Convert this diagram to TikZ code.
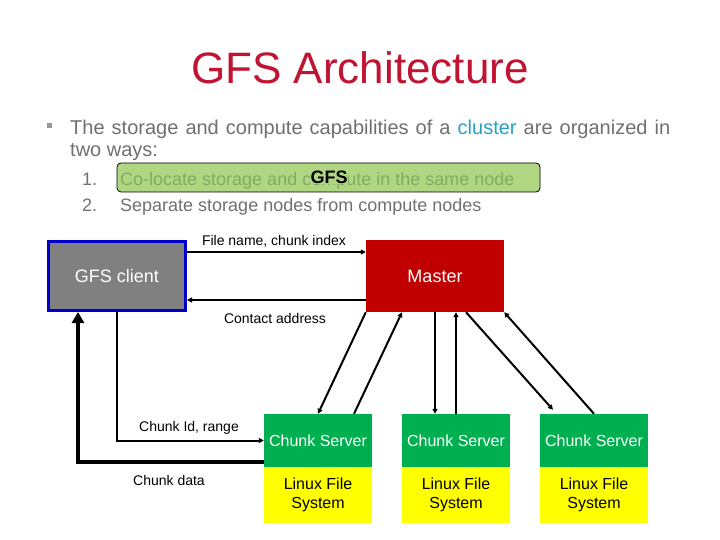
\documentclass[tikz,border=0pt]{standalone}
\usepackage{fontspec}
\setmainfont{Liberation Sans}
\usetikzlibrary{arrows.meta,calc}
\definecolor{titlered}{RGB}{192,20,50}
\definecolor{bodygray}{RGB}{112,112,112}
\definecolor{bulletgray}{RGB}{150,150,150}
\definecolor{clusterblue}{RGB}{40,160,200}
\definecolor{boxgreen}{RGB}{176,214,130}
\definecolor{boxtext}{RGB}{128,172,96}
\definecolor{clientgray}{RGB}{128,128,128}
\definecolor{clientblue}{RGB}{0,0,204}
\definecolor{masterred}{RGB}{192,0,0}
\definecolor{csgreen}{RGB}{0,176,80}
\definecolor{fsyellow}{RGB}{255,255,0}
\begin{document}
\begin{tikzpicture}[x=1pt,y=-1pt,
  txt/.style={anchor=base west, inner sep=0pt},
  lbl/.style={font=\fontsize{14}{16}\selectfont, anchor=base, inner sep=0pt},
  conn/.style={line width=2pt, -{Triangle[length=5pt,width=5pt]}},
  bigconn/.style={line width=4.5pt, -{Triangle[length=11pt,width=12pt]}},
  csbox/.style={fill=csgreen, text=white, minimum width=108pt, minimum height=53pt, inner sep=0pt, font=\fontsize{16}{19}\selectfont},
  fsbox/.style={fill=fsyellow, text=black, minimum width=108pt, minimum height=56pt, inner sep=0pt, align=center, font=\fontsize{16}{19}\selectfont},
]
\useasboundingbox (0,0) rectangle (720,540);
\fill[white] (0,0) rectangle (720,540);

% title
\node[anchor=base, inner sep=0pt, text=titlered, font=\fontsize{44}{50}\selectfont] (title) at (360,84) {GFS Architecture};

% bullet text
\node[fill=bulletgray, minimum size=5pt, inner sep=0pt] (bul) at (49.5,125.5) {};
\node[txt, text=bodygray, font=\fontsize{20}{24}\selectfont] (l1) at (70,135)
  {\makebox[600pt][s]{The storage and compute capabilities of a \textcolor{clusterblue}{cluster} are organized in}};
\node[txt, text=bodygray, font=\fontsize{20}{24}\selectfont] (l2) at (70,157) {two ways:};

% list
\node[txt, text=bodygray, font=\fontsize{18}{21}\selectfont] (n1) at (82,185.5) {1.};
\node[txt, text=bodygray, font=\fontsize{18}{21}\selectfont] (n2) at (82,211.5) {2.};
\node[draw=black, line width=0.8pt, rounded corners=4pt, fill=boxgreen, minimum width=423pt, minimum height=29pt, inner sep=0pt] (gbox) at (328.5,177.5) {};
\node[txt, text=boxtext, font=\fontsize{18}{21}\selectfont] (t1) at (120,185.5) {Co-locate storage and compute in the same node};
\node[fill=boxgreen, inner sep=0.5pt, font=\fontsize{18}{21}\selectfont\bfseries] (gfs) at (329,177.5) {GFS};
\node[txt, text=bodygray, font=\fontsize{18}{21}\selectfont] (t2) at (120,211.5) {Separate storage nodes from compute nodes};

% main boxes
\node[draw=clientblue, line width=3pt, fill=clientgray, text=white, minimum width=137pt, minimum height=69pt, inner sep=0pt, font=\fontsize{18}{21}\selectfont] (client) at (117,276) {GFS client};
\node[fill=masterred, text=white, minimum width=138pt, minimum height=72pt, inner sep=0pt, font=\fontsize{18}{21}\selectfont] (master) at (435,276) {Master};

\node[csbox] (cs1) at (318,440.5) {Chunk Server};
\node[csbox] (cs2) at (456,440.5) {Chunk Server};
\node[csbox] (cs3) at (594,440.5) {Chunk Server};
\node[fsbox] (fs1) at (318,495) {Linux File\\System};
\node[fsbox] (fs2) at (456,495) {Linux File\\System};
\node[fsbox] (fs3) at (594,495) {Linux File\\System};

% client <-> master
\draw[conn] ([yshift=24pt]client.east) -- ([yshift=24pt]master.west);
\draw[conn] ([yshift=-24pt]master.west) -- ([yshift=-24pt]client.east);
\node[lbl] (lfn) at (274,245) {File name, chunk index};
\node[lbl] (lca) at (275,323) {Contact address};

% client <-> chunk server
\draw[conn] (client.south) |- (cs1.west);
\draw[bigconn] ([yshift=-21.5pt]cs1.west) -| ([xshift=31pt]client.south west);
\node[lbl] (lci) at (189,431) {Chunk Id, range};
\node[lbl] (lcd) at (169,485.5) {Chunk data};

% master <-> chunk servers
\draw[conn] (master.south west) -- (cs1.north);
\draw[conn] ([xshift=36pt]cs1.north) -- ([xshift=-33pt]master.south);
\draw[conn] (master.south) -- ([xshift=-21pt]cs2.north);
\draw[conn] (cs2.north) -- ([xshift=21pt]master.south);
\draw[conn] ([xshift=31pt]master.south) -- ([xshift=-41pt,yshift=4pt]cs3.north);
\draw[conn] (cs3.north) -- (master.south east);
\end{tikzpicture}
\end{document}
